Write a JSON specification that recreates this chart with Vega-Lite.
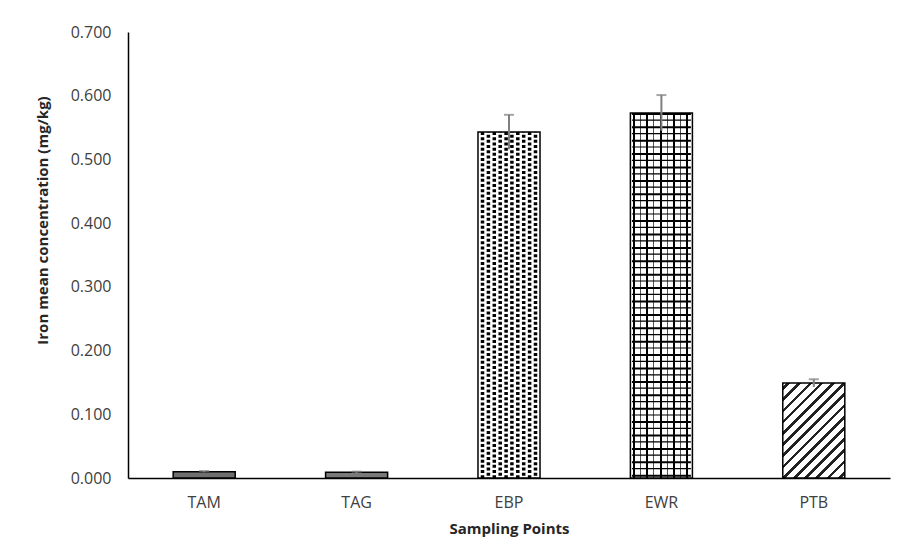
{
  "$schema": "https://vega.github.io/schema/vega-lite/v6.json",
  "width": 762,
  "height": 446,
  "autosize": "none",
  "padding": {"left": 128, "top": 32, "right": 10, "bottom": 77},
  "background": "white",
  "config": {
    "view": {"stroke": null},
    "axis": {"labelFont": "Open Sans", "titleFont": "Open Sans", "labelColor": "#404040", "titleColor": "#262626", "grid": false, "ticks": false, "tickSize": 0, "domainColor": "black", "domainWidth": 1.5}
  },
  "data": {"values": [
    {"site": "TAM", "mean": 0.010, "lo": 0.009, "hi": 0.011},
    {"site": "TAG", "mean": 0.009, "lo": 0.008, "hi": 0.010},
    {"site": "EBP", "mean": 0.543, "lo": 0.516, "hi": 0.570},
    {"site": "EWR", "mean": 0.573, "lo": 0.545, "hi": 0.601},
    {"site": "PTB", "mean": 0.149, "lo": 0.143, "hi": 0.155}
  ]},
  "encoding": {
    "x": {"field": "site", "type": "nominal", "sort": null,
      "scale": {"domain": ["TAM", "TAG", "EBP", "EWR", "PTB"], "paddingInner": 0.593, "paddingOuter": 0.2965},
      "axis": {"title": "Sampling Points", "labelAngle": 0, "labelFontSize": 16, "labelPadding": 16, "titleFontSize": 15, "titleFontWeight": "bold", "titlePadding": 11}},
    "y": {"field": "mean", "type": "quantitative",
      "scale": {"domain": [0, 0.7]},
      "axis": {"title": "Iron mean concentration (mg/kg)", "values": [0, 0.1, 0.2, 0.3, 0.4, 0.5, 0.6, 0.7], "format": ".3f", "labelFontSize": 16, "labelPadding": 17, "titleFontSize": 15, "titleFontWeight": "bold", "titleX": -78, "titleY": 188}}
  },
  "layer": [
    {"transform": [{"filter": "datum.site === 'TAM'"}], "mark": {"type": "bar", "fill": "#6f6f6f"}},
    {"transform": [{"filter": "datum.site === 'TAG'"}], "mark": {"type": "bar", "fill": "#7a7a7a"}},
    {"transform": [{"filter": "datum.site === 'EBP'"}], "mark": {"type": "bar", "fill": "white"}},
    {"transform": [{"filter": "datum.site === 'EBP'"}], "mark": {"type": "rule", "color": "black", "strokeWidth": 3.5, "strokeDash": [3, 2.2], "strokeDashOffset": 0, "xOffset": -26.5}, "encoding": {"y2": {"datum": 0}}},
    {"transform": [{"filter": "datum.site === 'EBP'"}], "mark": {"type": "rule", "color": "black", "strokeWidth": 3.5, "strokeDash": [3, 2.2], "strokeDashOffset": 2.6, "xOffset": -20.6}, "encoding": {"y2": {"datum": 0}}},
    {"transform": [{"filter": "datum.site === 'EBP'"}], "mark": {"type": "rule", "color": "black", "strokeWidth": 3.5, "strokeDash": [3, 2.2], "strokeDashOffset": 0, "xOffset": -14.7}, "encoding": {"y2": {"datum": 0}}},
    {"transform": [{"filter": "datum.site === 'EBP'"}], "mark": {"type": "rule", "color": "black", "strokeWidth": 3.5, "strokeDash": [3, 2.2], "strokeDashOffset": 2.6, "xOffset": -8.8}, "encoding": {"y2": {"datum": 0}}},
    {"transform": [{"filter": "datum.site === 'EBP'"}], "mark": {"type": "rule", "color": "black", "strokeWidth": 3.5, "strokeDash": [3, 2.2], "strokeDashOffset": 0, "xOffset": -2.9}, "encoding": {"y2": {"datum": 0}}},
    {"transform": [{"filter": "datum.site === 'EBP'"}], "mark": {"type": "rule", "color": "black", "strokeWidth": 3.5, "strokeDash": [3, 2.2], "strokeDashOffset": 2.6, "xOffset": 2.9}, "encoding": {"y2": {"datum": 0}}},
    {"transform": [{"filter": "datum.site === 'EBP'"}], "mark": {"type": "rule", "color": "black", "strokeWidth": 3.5, "strokeDash": [3, 2.2], "strokeDashOffset": 0, "xOffset": 8.8}, "encoding": {"y2": {"datum": 0}}},
    {"transform": [{"filter": "datum.site === 'EBP'"}], "mark": {"type": "rule", "color": "black", "strokeWidth": 3.5, "strokeDash": [3, 2.2], "strokeDashOffset": 2.6, "xOffset": 14.7}, "encoding": {"y2": {"datum": 0}}},
    {"transform": [{"filter": "datum.site === 'EBP'"}], "mark": {"type": "rule", "color": "black", "strokeWidth": 3.5, "strokeDash": [3, 2.2], "strokeDashOffset": 0, "xOffset": 20.6}, "encoding": {"y2": {"datum": 0}}},
    {"transform": [{"filter": "datum.site === 'EBP'"}], "mark": {"type": "rule", "color": "black", "strokeWidth": 3.5, "strokeDash": [3, 2.2], "strokeDashOffset": 2.6, "xOffset": 26.5}, "encoding": {"y2": {"datum": 0}}},
    {"transform": [{"filter": "datum.site === 'EWR'"}], "mark": {"type": "bar", "fill": {"gradient": "linear", "x1": 0, "y1": 0, "x2": 1, "y2": 0, "stops": [
      {"offset": 0, "color": "white"},
      {"offset": 0.038, "color": "white"}, {"offset": 0.038, "color": "black"}, {"offset": 0.070, "color": "black"}, {"offset": 0.070, "color": "white"},
      {"offset": 0.152, "color": "white"}, {"offset": 0.152, "color": "#555555"}, {"offset": 0.172, "color": "#555555"}, {"offset": 0.172, "color": "white"},
      {"offset": 0.254, "color": "white"}, {"offset": 0.254, "color": "black"}, {"offset": 0.286, "color": "black"}, {"offset": 0.286, "color": "white"},
      {"offset": 0.368, "color": "white"}, {"offset": 0.368, "color": "#555555"}, {"offset": 0.388, "color": "#555555"}, {"offset": 0.388, "color": "white"},
      {"offset": 0.470, "color": "white"}, {"offset": 0.470, "color": "black"}, {"offset": 0.502, "color": "black"}, {"offset": 0.502, "color": "white"},
      {"offset": 0.584, "color": "white"}, {"offset": 0.584, "color": "#555555"}, {"offset": 0.604, "color": "#555555"}, {"offset": 0.604, "color": "white"},
      {"offset": 0.686, "color": "white"}, {"offset": 0.686, "color": "black"}, {"offset": 0.718, "color": "black"}, {"offset": 0.718, "color": "white"},
      {"offset": 0.800, "color": "white"}, {"offset": 0.800, "color": "#555555"}, {"offset": 0.820, "color": "#555555"}, {"offset": 0.820, "color": "white"},
      {"offset": 0.902, "color": "white"}, {"offset": 0.902, "color": "black"}, {"offset": 0.934, "color": "black"}, {"offset": 0.934, "color": "white"},
      {"offset": 1, "color": "white"}
    ]}}},
    {"transform": [{"filter": "datum.site === 'EWR'"}], "mark": {"type": "rule", "color": "black", "strokeWidth": 59, "strokeDash": [2, 4.7, 1.2, 5.5], "strokeDashOffset": 0}, "encoding": {"y2": {"datum": 0}}},
    {"transform": [{"filter": "datum.site === 'PTB'"}], "mark": {"type": "bar", "fill": {"gradient": "linear", "x1": 0, "y1": 0, "x2": 0.757, "y2": 1.159, "stops": [
      {"offset": 0, "color": "white"},
      {"offset": 0.024, "color": "white"}, {"offset": 0.024, "color": "#222222"}, {"offset": 0.048, "color": "#222222"}, {"offset": 0.048, "color": "white"},
      {"offset": 0.095, "color": "white"}, {"offset": 0.095, "color": "#222222"}, {"offset": 0.119, "color": "#222222"}, {"offset": 0.119, "color": "white"},
      {"offset": 0.167, "color": "white"}, {"offset": 0.167, "color": "#222222"}, {"offset": 0.191, "color": "#222222"}, {"offset": 0.191, "color": "white"},
      {"offset": 0.238, "color": "white"}, {"offset": 0.238, "color": "#222222"}, {"offset": 0.262, "color": "#222222"}, {"offset": 0.262, "color": "white"},
      {"offset": 0.309, "color": "white"}, {"offset": 0.309, "color": "#222222"}, {"offset": 0.333, "color": "#222222"}, {"offset": 0.333, "color": "white"},
      {"offset": 0.381, "color": "white"}, {"offset": 0.381, "color": "#222222"}, {"offset": 0.405, "color": "#222222"}, {"offset": 0.405, "color": "white"},
      {"offset": 0.452, "color": "white"}, {"offset": 0.452, "color": "#222222"}, {"offset": 0.476, "color": "#222222"}, {"offset": 0.476, "color": "white"},
      {"offset": 0.524, "color": "white"}, {"offset": 0.524, "color": "#222222"}, {"offset": 0.548, "color": "#222222"}, {"offset": 0.548, "color": "white"},
      {"offset": 0.595, "color": "white"}, {"offset": 0.595, "color": "#222222"}, {"offset": 0.619, "color": "#222222"}, {"offset": 0.619, "color": "white"},
      {"offset": 0.667, "color": "white"}, {"offset": 0.667, "color": "#222222"}, {"offset": 0.691, "color": "#222222"}, {"offset": 0.691, "color": "white"},
      {"offset": 0.738, "color": "white"}, {"offset": 0.738, "color": "#222222"}, {"offset": 0.762, "color": "#222222"}, {"offset": 0.762, "color": "white"},
      {"offset": 0.809, "color": "white"}, {"offset": 0.809, "color": "#222222"}, {"offset": 0.833, "color": "#222222"}, {"offset": 0.833, "color": "white"},
      {"offset": 0.881, "color": "white"}, {"offset": 0.881, "color": "#222222"}, {"offset": 0.905, "color": "#222222"}, {"offset": 0.905, "color": "white"},
      {"offset": 0.952, "color": "white"}, {"offset": 0.952, "color": "#222222"}, {"offset": 0.976, "color": "#222222"}, {"offset": 0.976, "color": "white"},
      {"offset": 1, "color": "white"}
    ]}}},
    {"mark": {"type": "bar", "fill": "white", "fillOpacity": 0, "stroke": "black", "strokeWidth": 1.5}},
    {"mark": {"type": "rule", "color": "#7f7f7f", "strokeWidth": 2}, "encoding": {"y": {"field": "lo", "type": "quantitative"}, "y2": {"field": "hi"}}},
    {"mark": {"type": "tick", "color": "#7f7f7f", "size": 10, "thickness": 2}, "encoding": {"y": {"field": "hi", "type": "quantitative"}}}
  ]
}
